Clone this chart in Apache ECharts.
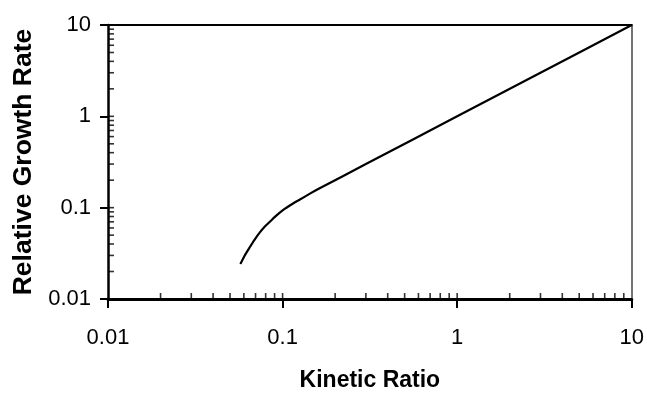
<!DOCTYPE html>
<html>
<head>
<meta charset="utf-8">
<script src="https://cdn.jsdelivr.net/npm/echarts@6/dist/echarts.min.js"></script>
<style>
  html, body { margin: 0; padding: 0; background: #fff; }
  #main { width: 647px; height: 397px; }
</style>
</head>
<body>
<div id="main"></div>
<script>
// curve (kinetic ratio -> relative growth rate)
const kineticRatio = [0.0573, 0.0607, 0.0647, 0.0692, 0.0739, 0.0789, 0.0845, 0.0900, 0.096,
                      0.1027, 0.11, 0.1171, 0.125, 0.1426, 0.163, 0.3, 1, 3, 10];
const growthRate   = [0.0241, 0.0300, 0.0366, 0.0447, 0.0532, 0.0618, 0.070, 0.0787, 0.0877,
                      0.0968, 0.1057, 0.1138, 0.122, 0.1415, 0.163, 0.3, 1, 3, 10];

const xTickLabels = ['0.01', '0.1', '1', '10'];
const yTickLabels = ['0.01', '0.1', '1', '10'];
const majorTicks = [0.01, 0.1, 1, 10];
const minorTicks = [0.02, 0.03, 0.04, 0.05, 0.06, 0.07, 0.08, 0.09,
                    0.2, 0.3, 0.4, 0.5, 0.6, 0.7, 0.8, 0.9,
                    2, 3, 4, 5, 6, 7, 8, 9];

const FONT = "'Liberation Sans', Arial, sans-serif";

var chartDom = document.getElementById('main');
var myChart = echarts.init(chartDom, null, { renderer: 'canvas' });

const curve = kineticRatio.map((x, i) => [x, growthRate[i]]);
// inside ticks (minor + inner part of major) drawn as small bars on the axes
const xInside = minorTicks.map(v => [v, 0.01]).concat(majorTicks.slice(1, 3).map(v => [v, 0.01]));
const yInside = minorTicks.map(v => [0.01, v]).concat(majorTicks.slice(1, 3).map(v => [0.01, v]));

var option = {
  backgroundColor: '#fff',
  animation: false,
  grid: { left: 108, right: 15, top: 25, bottom: 95 },
  xAxis: [
    {
      type: 'log', logBase: 10, min: 0.01, max: 10, splitNumber: 3,
      position: 'bottom',
      name: 'Kinetic Ratio', nameLocation: 'middle', nameGap: 70,
      nameTextStyle: { fontFamily: FONT, fontWeight: 'bold', fontSize: 23, color: '#000' },
      axisLine: { show: true, lineStyle: { color: '#000', width: 3 } },
      axisTick: { show: true, inside: false, length: 9, lineStyle: { color: '#000', width: 2 } },
      axisLabel: {
        margin: 28, fontFamily: FONT, fontSize: 22, color: '#000',
        formatter: (v, i) => xTickLabels[i]
      },
      splitLine: { show: false }
    },
    {
      type: 'log', logBase: 10, min: 0.01, max: 10,
      position: 'top',
      axisLine: { show: true, lineStyle: { color: '#000', width: 2 } },
      axisTick: { show: false }, axisLabel: { show: false }, splitLine: { show: false }
    }
  ],
  yAxis: [
    {
      type: 'log', logBase: 10, min: 0.01, max: 10, splitNumber: 3,
      position: 'left',
      name: 'Relative Growth Rate', nameLocation: 'middle', nameGap: 69,
      nameTextStyle: { fontFamily: FONT, fontWeight: 'bold', fontSize: 26.5, color: '#000' },
      axisLine: { show: true, lineStyle: { color: '#000', width: 2.5 } },
      axisTick: { show: true, inside: false, length: 8, lineStyle: { color: '#000', width: 2 } },
      axisLabel: {
        margin: 17, fontFamily: FONT, fontSize: 22, color: '#000',
        formatter: (v, i) => yTickLabels[i]
      },
      splitLine: { show: false }
    },
    {
      type: 'log', logBase: 10, min: 0.01, max: 10,
      position: 'right',
      axisLine: { show: true, lineStyle: { color: '#444', width: 1.5 } },
      axisTick: { show: false }, axisLabel: { show: false }, splitLine: { show: false }
    }
  ],
  series: [
    {
      type: 'line',
      data: curve,
      smooth: 0.2,
      showSymbol: false,
      lineStyle: { color: '#000', width: 2.2 },
      z: 5
    },
    {
      type: 'scatter',
      data: xInside,
      symbol: 'rect',
      symbolSize: [1.6, 6],
      symbolOffset: [0, -3],
      itemStyle: { color: '#000' },
      clip: false,
      silent: true
    },
    {
      type: 'scatter',
      data: yInside,
      symbol: 'rect',
      symbolSize: [6, 1.6],
      symbolOffset: [3, 0],
      itemStyle: { color: '#000' },
      clip: false,
      silent: true
    }
  ]
};

option && myChart.setOption(option, true);
window.onresize = () => {
  myChart.resize();
};
</script>
</body>
</html>
